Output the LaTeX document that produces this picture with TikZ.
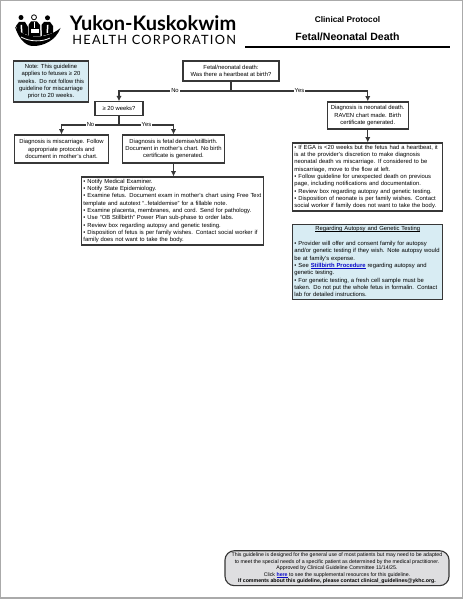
\documentclass[tikz,border=0pt]{standalone}
\usepackage{fontspec}
\setmainfont{Liberation Sans}
\newfontfamily\logofont{Lato}
\newfontfamily\logowide[LetterSpace=10]{Lato}
\usetikzlibrary{arrows.meta,positioning}
\definecolor{figline}{RGB}{55,55,55}
\definecolor{figframe}{RGB}{170,170,170}
\definecolor{fignote}{RGB}{216,236,243}
\definecolor{figfoot}{RGB}{222,222,224}
\definecolor{figlink}{RGB}{10,10,200}
\tikzset{
  bx/.style    ={draw=figline, line width=0.85pt, inner sep=0pt, font=\fontsize{4.4}{5.5}\selectfont},
  bxc/.style   ={bx, align=center},
  bxl/.style   ={bx, align=left},
  lab/.style   ={font=\fontsize{4.4}{5.5}\selectfont, fill=white, inner sep=0.6pt},
  lin/.style   ={draw=figline, line width=0.85pt},
  ptr/.style   ={lin, -{Latex[length=4pt,width=4pt]}},
}
\newsavebox{\linebox}
\newcommand{\lowline}[1]{\sbox{\linebox}{#1}\rlap{\rule[-0.7pt]{\wd\linebox}{0.3pt}}\usebox{\linebox}}
\newcommand{\doclink}[1]{\textcolor{figlink}{\lowline{\textbf{#1}}}}
\begin{document}
\begin{tikzpicture}[x=0.75pt,y=-0.75pt]
  \useasboundingbox (0,0) rectangle (463,599);
  \fill[white] (0,0) rectangle (463,599);
  \draw[figframe,line width=1.1pt] (0.7,0.5) -- (462.3,0.5) -- (462.3,598) -- (0.7,598) -- cycle;
  % logo
  \fill[black] (21,17.5) circle (2.5);
  \draw[black,line width=0.6pt] (34,17.3) circle (2.5);
  \fill[black] (47.5,17.8) circle (2.5);
  \fill[black] (16,26) -- (19,22) -- (25,22) -- (28,27) -- (28,35) -- (18,32) -- cycle;
  \fill[black] (28.5,25) -- (31,21.5) -- (37,21.5) -- (40,25) -- (40.5,36) -- (28.5,36) -- cycle;
  \fill[black] (41.5,25) -- (44,22) -- (50,22) -- (53,26) -- (53,33) -- (42,36) -- cycle;
  \fill[white] (31,29) rectangle (38.5,33.5);
  \fill[white] (33.5,22) -- (35,22) -- (35,28) -- (33.5,28) -- cycle;
  \fill[white] (20.5,25) -- (22,25) -- (22.5,33) -- (21,33) -- cycle;
  \fill[white] (47,25) -- (48.5,25) -- (48,33) -- (46.5,33) -- cycle;
  \fill[black] (15,26.5) .. controls (22,38) and (45,41) .. (60.5,28)
     .. controls (56,40) and (44,46.5) .. (32,46) .. controls (24,45) and (18,37) .. (15,26.5);
  \draw[white,line width=0.6pt] (21,37) .. controls (30,42) and (42,42) .. (50,38);
  \node[anchor=base west,inner sep=0pt,font=\logofont\fontsize{15}{16}\selectfont\bfseries] (orgname) at (69.5,31) {Yukon-Kuskokwim};
  \node[anchor=base west,inner sep=0pt,font=\logowide\fontsize{9.6}{10}\selectfont] (orgsub) at (72,45) {HEALTH CORPORATION};
  % title block
  \node[inner sep=0pt,font=\fontsize{6.2}{7}\selectfont\bfseries] (kind) at (347.5,20) {Clinical Protocol};
  \node[inner sep=0pt,font=\fontsize{7.9}{9}\selectfont\bfseries] (title) at (347.5,37) {Fetal/Neonatal Death};
  \draw[black,line width=0.9pt] (245,47) -- (449.5,47);
  % boxes
  \node[bxc,fill=fignote,minimum width=56.5pt,minimum height=30.8pt] (notebox) at (51,81.5)
    {Note: This guideline\\applies to fetuses ≥ 20\\weeks.\ \ Do not follow this\\guideline for miscarriage\\prior to 20 weeks.};
  \node[bxc,minimum width=72pt,minimum height=15pt] (topbox) at (231,71)
    {Fetal/neonatal death:\\Was there a heartbeat at birth?};
  \node[bxc,minimum width=36pt,minimum height=10pt] (gestbox) at (119,108.5) {≥ 20 weeks?};
  \node[bxc,minimum width=71pt,minimum height=21pt] (miscbox) at (61.5,149)
    {Diagnosis is miscarriage. Follow\\appropriate protocols and\\document in mother’s chart.};
  \node[bxc,minimum width=76.5pt,minimum height=21pt] (demisebox) at (173.5,149)
    {Diagnosis is fetal demise/stillbirth.\\Document in mother’s chart. No birth\\certificate is generated.};
  \node[bxl,text width=134pt,minimum width=136.5pt,minimum height=51pt] (fetalbox) at (172.75,211)
    {• Notify Medical Examiner.\\• Notify State Epidemiology.\\• Examine fetus. Document exam in mother’s chart using Free Text\\template and autotext “..fetaldemise” for a fillable note.\\• Examine placenta, membranes, and cord. Send for pathology.\\• Use “OB Stillbirth” Power Plan sub-phase to order labs.\\• Review box regarding autopsy and genetic testing.\\• Disposition of fetus is per family wishes. Contact social worker if\\family does not want to take the body.};
  \node[bxc,minimum width=61pt,minimum height=20.3pt] (neobox) at (367.75,115.5)
    {Diagnosis is neonatal death.\\RAVEN chart made. Birth\\certificate generated.};
  \node[bxl,text width=110pt,minimum width=112.5pt,minimum height=51pt] (egabox) at (367.75,177)
    {• If EGA is <20 weeks but the fetus had a heartbeat, it\\is at the provider’s discretion to make diagnosis\\neonatal death vs miscarriage. If considered to be\\miscarriage, move to the flow at left.\\• Follow guideline for unexpected death on previous\\page, including notifications and documentation.\\• Review box regarding autopsy and genetic testing.\\• Disposition of neonate is per family wishes. Contact\\social worker if family does not want to take the body.};
  \node[bxl,fill=fignote,text width=110pt,minimum width=112.5pt,minimum height=56.2pt] (autopsybox) at (367.75,261.8)
    {\hfill\lowline{Regarding Autopsy and Genetic Testing}\hfill\null\\[5.5pt]• Provider will offer and consent family for autopsy\\and/or genetic testing if they wish. Note autopsy would\\be at family’s expense.\\• See \doclink{Stillbirth Procedure} regarding autopsy and\\genetic testing.\\• For genetic testing, a fresh cell sample must be\\taken. Do not put the whole fetus in formalin. Contact\\lab for detailed instructions.};
  \node[bxc,fill=figfoot,rounded corners=7pt,minimum width=168pt,minimum height=26.2pt,font=\fontsize{3.93}{4.9}\selectfont] (footbox) at (337,568.2)
    {This guideline is designed for the general use of most patients but may need to be adapted\\to meet the special needs of a specific patient as determined by the medical practitioner.\\Approved by Clinical Guideline Committee 11/14/25.\\Click \doclink{here} to see the supplemental resources for this guideline.\\\textbf{If comments about this guideline, please contact clinical\_guidelines@ykhc.org.}};
  % connectors
  \coordinate (topjoin) at (231,91);
  \coordinate (gestjoin) at (119,125);
  \draw[lin] (topbox.south) -- (topjoin);
  \draw[ptr] (topjoin) -| (gestbox.north);
  \draw[ptr] (topjoin) -| (neobox.north);
  \draw[lin] (gestbox.south) -- (gestjoin);
  \draw[ptr] (gestjoin) -| (miscbox.north);
  \draw[ptr] (gestjoin) -| (demisebox.north);
  \draw[ptr] (demisebox.south) -- (demisebox.south |- fetalbox.north);
  \draw[ptr] (neobox.south) -- (egabox.north);
  \node[lab] (topno) at (175,91) {No};
  \node[lab] (topyes) at (299.5,91) {Yes};
  \node[lab] (gestno) at (90.5,125) {No};
  \node[lab] (gestyes) at (146.5,125) {Yes};
\end{tikzpicture}
\end{document}
